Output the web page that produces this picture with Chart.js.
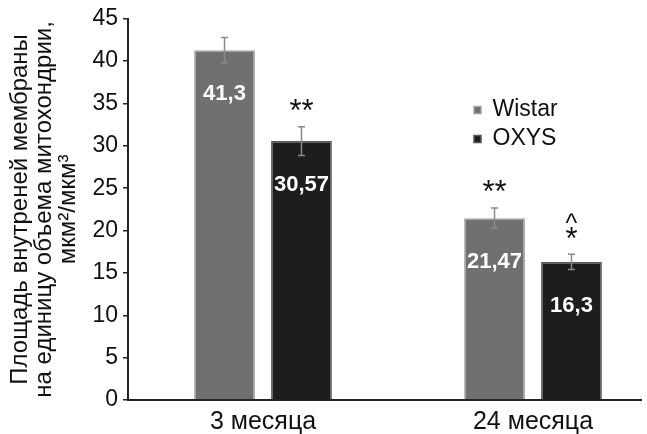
<!DOCTYPE html>
<html>
<head>
<meta charset="utf-8">
<script src="https://cdn.jsdelivr.net/npm/chart.js@4"></script>
<style>
  html, body { margin: 0; padding: 0; background: #fff; }
  #wrap { width: 647px; height: 434px; position: relative; }
</style>
</head>
<body>
<div id="wrap"><canvas id="chart"></canvas></div>
<script>
const categories = ['3 месяца', '24 месяца'];
const wistarValues = [41.3, 21.47];
const oxysValues = [30.57, 16.3];
const wistarErrors = [1.5, 1.2];
const oxysErrors = [1.7, 0.9];
// significance marks above each bar, listed bottom to top
const wistarMarks = [[], ['**']];
const oxysMarks = [['**'], ['*', '^']];
const yMin = 0;
const yMax = 45;
const yStep = 5;
const axisTitle = ['Площадь внутреней мембраны', 'на единицу объема митохондрии,', 'мкм²/мкм³'];

const FONT = '"Liberation Sans", Arial, sans-serif';
Chart.defaults.font.family = FONT;
Chart.defaults.color = '#111';

const formatValue = (v) => String(v).replace('.', ',');

// error bars, value labels and asterisks
const annotatePlugin = {
  id: 'annotate',
  afterDatasetsDraw(chart) {
    const ctx = chart.ctx;
    const yScale = chart.scales.y;
    const errors = [wistarErrors, oxysErrors];
    const marks = [wistarMarks, oxysMarks];

    chart.data.datasets.forEach((ds, di) => {
      const meta = chart.getDatasetMeta(di);
      meta.data.forEach((bar, i) => {
        const v = ds.data[i];
        const e = errors[di][i];
        const yTop = yScale.getPixelForValue(v + e);
        const yBot = yScale.getPixelForValue(v - e);

        ctx.save();
        ctx.strokeStyle = '#8a8a8a';
        ctx.lineWidth = 1.5;
        ctx.beginPath();
        ctx.moveTo(bar.x, yTop);
        ctx.lineTo(bar.x, yBot);
        ctx.moveTo(bar.x - 3.5, yTop);
        ctx.lineTo(bar.x + 3.5, yTop);
        ctx.moveTo(bar.x - 3.5, yBot);
        ctx.lineTo(bar.x + 3.5, yBot);
        ctx.stroke();

        ctx.fillStyle = '#fff';
        ctx.font = 'bold 22px ' + FONT;
        ctx.textAlign = 'center';
        ctx.textBaseline = 'middle';
        ctx.fillText(formatValue(v), bar.x, bar.y + 44);

        ctx.fillStyle = '#111';
        let cy = yTop - 13;
        marks[di][i].forEach((m) => {
          ctx.font = (m === '^' ? '25px ' : '31px ') + FONT;
          const mt = ctx.measureText(m);
          const base = cy + (mt.actualBoundingBoxAscent - mt.actualBoundingBoxDescent) / 2;
          ctx.textBaseline = 'alphabetic';
          ctx.fillText(m, bar.x, base);
          cy -= 23;
        });
        ctx.restore();
      });
    });
  }
};

// the legend sits inside the plot, to the right of the first group
const legendPlacePlugin = {
  id: 'legendPlace',
  afterLayout(chart) {
    const lg = chart.legend;
    if (!lg) return;
    const w = lg.width, h = lg.height;
    lg.left = 468;
    lg.top = 92.5;
    lg.right = lg.left + w;
    lg.bottom = lg.top + h;
  }
};

new Chart(document.getElementById('chart'), {
  type: 'bar',
  data: {
    labels: categories,
    datasets: [{
      label: 'Wistar',
      data: wistarValues,
      backgroundColor: '#707070',
      borderColor: '#a2a2a2',
      borderWidth: 1.5,
      categoryPercentage: 0.57,
      barPercentage: 0.79,
    }, {
      label: 'OXYS',
      data: oxysValues,
      backgroundColor: '#1d1d1d',
      borderColor: '#575757',
      borderWidth: 1.5,
      categoryPercentage: 0.57,
      barPercentage: 0.79,
    }]
  },
  options: {
    responsive: true,
    maintainAspectRatio: false,
    animation: false,
    layout: { padding: { top: 18, right: 6, left: 0, bottom: 0 } },
    plugins: {
      legend: {
        position: 'chartArea',
        align: 'start',
        labels: {
          color: '#111',
          boxWidth: 7,
          boxHeight: 7,
          padding: 6,
          font: { size: 23 }
        }
      },
      tooltip: { enabled: false }
    },
    scales: {
      x: {
        // the source axis is cut short on the right: stretch the category range a bit
        afterBuildTicks: (scale) => { scale._valueRange = 1.9; },
        afterFit: (scale) => { scale.height = 34; },
        grid: { drawOnChartArea: false, drawTicks: false, tickLength: 0 },
        border: { color: '#222', width: 2 },
        ticks: { color: '#111', padding: 7, font: { size: 25 } }
      },
      y: {
        min: yMin,
        max: yMax,
        afterFit: (scale) => { scale.width = 128; },
        grid: { drawOnChartArea: false, tickLength: 5, color: '#222', lineWidth: 1.5 },
        border: { color: '#222', width: 2 },
        ticks: { stepSize: yStep, color: '#111', padding: 5, font: { size: 23 } },
        title: {
          display: true,
          text: axisTitle,
          color: '#111',
          font: { size: 24, lineHeight: 1.0 },
          padding: { top: 8, bottom: 0 }
        }
      }
    }
  },
  plugins: [annotatePlugin, legendPlacePlugin]
});
</script>
</body>
</html>
